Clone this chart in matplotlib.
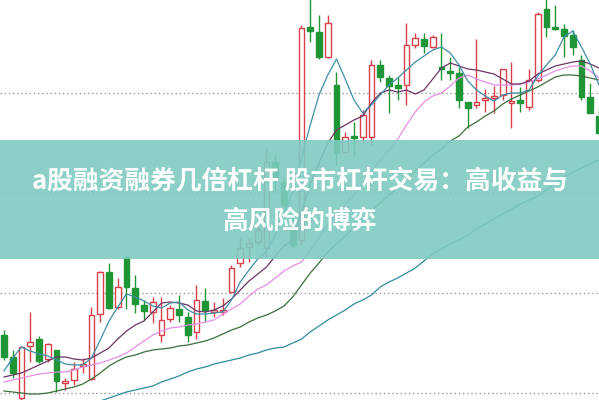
import numpy as np
import matplotlib
matplotlib.use("Agg")
import matplotlib.pyplot as plt
from matplotlib.patches import Rectangle

# daily candles
opens = [5.58, 5.36, 4.95, 5.47, 5.54, 5.34, 5.43, 5.10, 5.13, 5.27,
         5.14, 5.79, 6.21, 5.86, 6.36, 6.05, 5.88, 5.81, 5.58, 5.74,
         5.84, 5.76, 5.61, 5.92, 5.81, 5.81, 6.01, 6.30, 6.46, 6.51,
         6.45, 7.31, 7.11, 6.68, 6.53, 8.66, 8.61, 8.36, 8.08, 7.41,
         7.57, 7.56, 7.56, 8.28, 8.15, 8.08, 8.08, 8.48, 8.54, 8.46,
         8.26, 8.22, 8.20, 7.91, 7.88, 7.93, 7.95, 7.98, 7.90, 7.93,
         7.86, 8.13, 8.84, 8.66, 8.64, 8.58, 8.33, 7.96, 7.77]
closes = [5.36, 5.20, 5.46, 5.51, 5.32, 5.49, 5.12, 5.12, 5.24, 5.29,
          5.78, 6.21, 5.85, 6.06, 6.06, 5.89, 5.82, 5.91, 5.73, 5.85,
          5.78, 5.58, 5.93, 5.83, 5.83, 5.83, 6.25, 6.45, 6.50, 6.63,
          7.31, 7.15, 6.88, 6.48, 8.65, 8.62, 8.36, 8.70, 7.40, 7.56,
          7.55, 7.78, 8.28, 8.16, 8.07, 8.05, 8.48, 8.55, 8.47, 8.56,
          8.24, 8.20, 7.93, 7.85, 7.91, 7.95, 7.97, 8.24, 7.92, 7.90,
          8.13, 8.79, 8.66, 8.64, 8.57, 8.46, 7.96, 7.80, 7.60]
highs = [5.63, 5.43, 5.47, 5.81, 5.57, 5.50, 5.43, 5.15, 5.31, 5.35,
         5.86, 6.22, 6.30, 6.15, 6.38, 6.18, 5.93, 5.96, 5.96, 5.88,
         5.98, 5.81, 6.08, 6.05, 5.91, 5.95, 6.28, 6.55, 6.55, 6.68,
         7.45, 7.38, 7.15, 6.78, 8.68, 8.95, 8.78, 8.78, 8.21, 7.61,
         7.71, 7.83, 8.33, 8.33, 8.18, 8.16, 8.70, 8.60, 8.60, 8.58,
         8.60, 8.36, 8.26, 7.91, 8.54, 8.04, 8.07, 8.24, 8.31, 8.06,
         8.24, 8.81, 8.95, 8.88, 8.69, 8.63, 8.38, 8.10, 7.85]
lows = [5.33, 5.15, 4.93, 5.31, 5.30, 5.31, 5.01, 5.03, 5.08, 5.20,
        5.13, 5.71, 5.84, 5.84, 5.84, 5.80, 5.73, 5.70, 5.51, 5.71,
        5.71, 5.51, 5.54, 5.71, 5.76, 5.78, 6.00, 6.26, 6.31, 6.48,
        6.36, 7.01, 6.83, 6.45, 6.48, 8.51, 8.34, 8.35, 7.28, 7.40,
        7.38, 7.50, 7.48, 8.11, 7.80, 7.93, 7.88, 8.45, 8.40, 8.45,
        8.13, 8.13, 7.85, 7.65, 7.85, 7.81, 7.80, 7.93, 7.65, 7.81,
        7.83, 8.11, 8.56, 8.63, 8.36, 8.38, 7.93, 7.80, 7.58]

# moving average lines, one value per candle
ma5 = [5.22, 5.35, 5.46, 5.42, 5.39, 5.37, 5.33, 5.29, 5.28, 5.28,
       5.35, 5.53, 5.72, 5.86, 5.99, 5.96, 5.92, 5.87, 5.85, 5.90,
       5.91, 5.83, 5.79, 5.79, 5.80, 5.81, 5.93, 6.11, 6.23, 6.34,
       6.42, 6.58, 6.78, 7.02, 7.35, 7.68, 7.98, 8.18, 8.34, 8.14,
       7.93, 7.80, 7.88, 7.98, 8.08, 8.15, 8.23, 8.31, 8.37, 8.43,
       8.46, 8.40, 8.28, 8.12, 8.03, 7.97, 7.92, 7.98, 8.00, 8.00,
       8.03, 8.17, 8.28, 8.38, 8.56, 8.62, 8.46, 8.29, 8.08]
ma10 = [5.16, 5.18, 5.20, 5.24, 5.28, 5.32, 5.36, 5.36, 5.34, 5.33,
        5.35, 5.40, 5.45, 5.54, 5.62, 5.68, 5.72, 5.81, 5.90, 5.91,
        5.90, 5.88, 5.82, 5.81, 5.83, 5.87, 5.94, 6.03, 6.12, 6.19,
        6.26, 6.37, 6.47, 6.53, 6.81, 7.09, 7.30, 7.50, 7.63, 7.68,
        7.73, 7.77, 7.90, 8.00, 8.03, 8.01, 8.03, 7.99, 8.03, 8.14,
        8.25, 8.30, 8.27, 8.24, 8.23, 8.21, 8.19, 8.14, 8.09, 8.09,
        8.12, 8.19, 8.23, 8.27, 8.29, 8.31, 8.32, 8.29, 8.25]
ma20 = [5.11, 5.13, 5.15, 5.17, 5.19, 5.20, 5.21, 5.21, 5.23, 5.26,
        5.28, 5.30, 5.33, 5.36, 5.40, 5.46, 5.52, 5.58, 5.62, 5.65,
        5.66, 5.68, 5.69, 5.71, 5.73, 5.79, 5.84, 5.89, 5.97, 6.04,
        6.08, 6.15, 6.22, 6.27, 6.31, 6.43, 6.55, 6.68, 6.80, 6.89,
        6.98, 7.08, 7.21, 7.33, 7.43, 7.54, 7.68, 7.81, 7.91, 7.97,
        8.00, 8.07, 8.15, 8.18, 8.14, 8.11, 8.08, 8.08, 8.08, 8.09,
        8.11, 8.14, 8.18, 8.22, 8.25, 8.27, 8.27, 8.22, 8.15]
ma30 = [5.02, 5.01, 5.00, 4.99, 4.99, 5.00, 5.02, 5.04, 5.06, 5.09,
        5.14, 5.20, 5.27, 5.32, 5.36, 5.38, 5.41, 5.43, 5.44, 5.45,
        5.47, 5.48, 5.50, 5.52, 5.55, 5.59, 5.63, 5.66, 5.71, 5.75,
        5.78, 5.82, 5.87, 5.96, 6.08, 6.20, 6.30, 6.41, 6.49, 6.57,
        6.65, 6.73, 6.82, 6.90, 6.98, 7.06, 7.14, 7.22, 7.30, 7.38,
        7.44, 7.52, 7.57, 7.66, 7.71, 7.77, 7.82, 7.89, 7.94, 7.98,
        8.02, 8.06, 8.11, 8.16, 8.18, 8.18, 8.17, 8.15, 8.13]
nan = float("nan")
ma120 = [nan, nan, nan, nan, nan, nan, nan, nan, nan, nan,
         nan, 4.92, 4.95, 4.98, 5.01, 5.03, 5.05, 5.07, 5.11, 5.14,
         5.17, 5.21, 5.24, 5.26, 5.29, 5.31, 5.33, 5.35, 5.38, 5.40,
         5.43, 5.45, 5.46, 5.50, 5.54, 5.61, 5.67, 5.73, 5.78, 5.83,
         5.89, 5.93, 5.98, 6.06, 6.11, 6.15, 6.20, 6.25, 6.32, 6.39,
         6.44, 6.49, 6.53, 6.58, 6.64, 6.69, 6.74, 6.79, 6.84, 6.89,
         6.93, 6.97, 7.03, 7.10, 7.16, 7.21, 7.25, 7.29, 7.33]

grid_levels = [5, 6, 7, 8]
title_lines = ["a股融资融券几倍杠杆 股市杠杆交易：高收益与", "高风险的博弈"]

up_col = "#d8414a"
down_col = "#1f9636"

fig = plt.figure(figsize=(5.99, 4.0), dpi=100)
ax = fig.add_axes([0, 0, 1, 1])
ax.set_xlim(-0.457, 68.0)
ax.set_ylim(4.93, 8.93)
ax.axis("off")

for g in grid_levels:
    ax.axhline(g, color="#9a9a9a", lw=1.0, ls=(0, (1, 2)), zorder=0)

x = np.arange(len(opens))
o = np.array(opens)
c = np.array(closes)
up = c >= o
cols = np.where(up, up_col, down_col)

ax.vlines(x, lows, highs, colors=cols, lw=1.0, zorder=2)
body_lo = np.minimum(o, c)
body_h = np.maximum(np.abs(c - o), 0.015)
ax.bar(x[up], body_h[up], bottom=body_lo[up], width=0.66,
       facecolor="white", edgecolor=up_col, lw=1.0, zorder=3)
ax.bar(x[~up], body_h[~up], bottom=body_lo[~up], width=0.66,
       facecolor=down_col, edgecolor=down_col, lw=1.0, zorder=3)

ax.plot(x, ma120, color="#2e8c9c", lw=0.9, zorder=4)
ax.plot(x, ma30, color="#3c6e3c", lw=0.9, zorder=4)
ax.plot(x, ma20, color="#e48fe4", lw=0.9, zorder=4)
ax.plot(x, ma10, color="#6b3566", lw=0.9, zorder=4)
ax.plot(x, ma5, color="#3f8ea6", lw=0.9, zorder=4)

# title band across the middle
fig.add_artist(Rectangle((0, 1 - 259 / 400), 1, 119 / 400, transform=fig.transFigure,
                         facecolor="#7ecac1", alpha=0.9, edgecolor="none", zorder=5))
fam = ["Noto Sans CJK SC", "DejaVu Sans"]
fig.text(0.5, 1 - 181.5 / 400, title_lines[0], ha="center", va="center", color="white",
         fontsize=18.5, fontweight="bold", family=fam, zorder=6)
fig.text(0.5, 1 - 221 / 400, title_lines[1], ha="center", va="center", color="white",
         fontsize=18.5, fontweight="bold", family=fam, zorder=6)

fig.savefig("out.png", dpi=100)
